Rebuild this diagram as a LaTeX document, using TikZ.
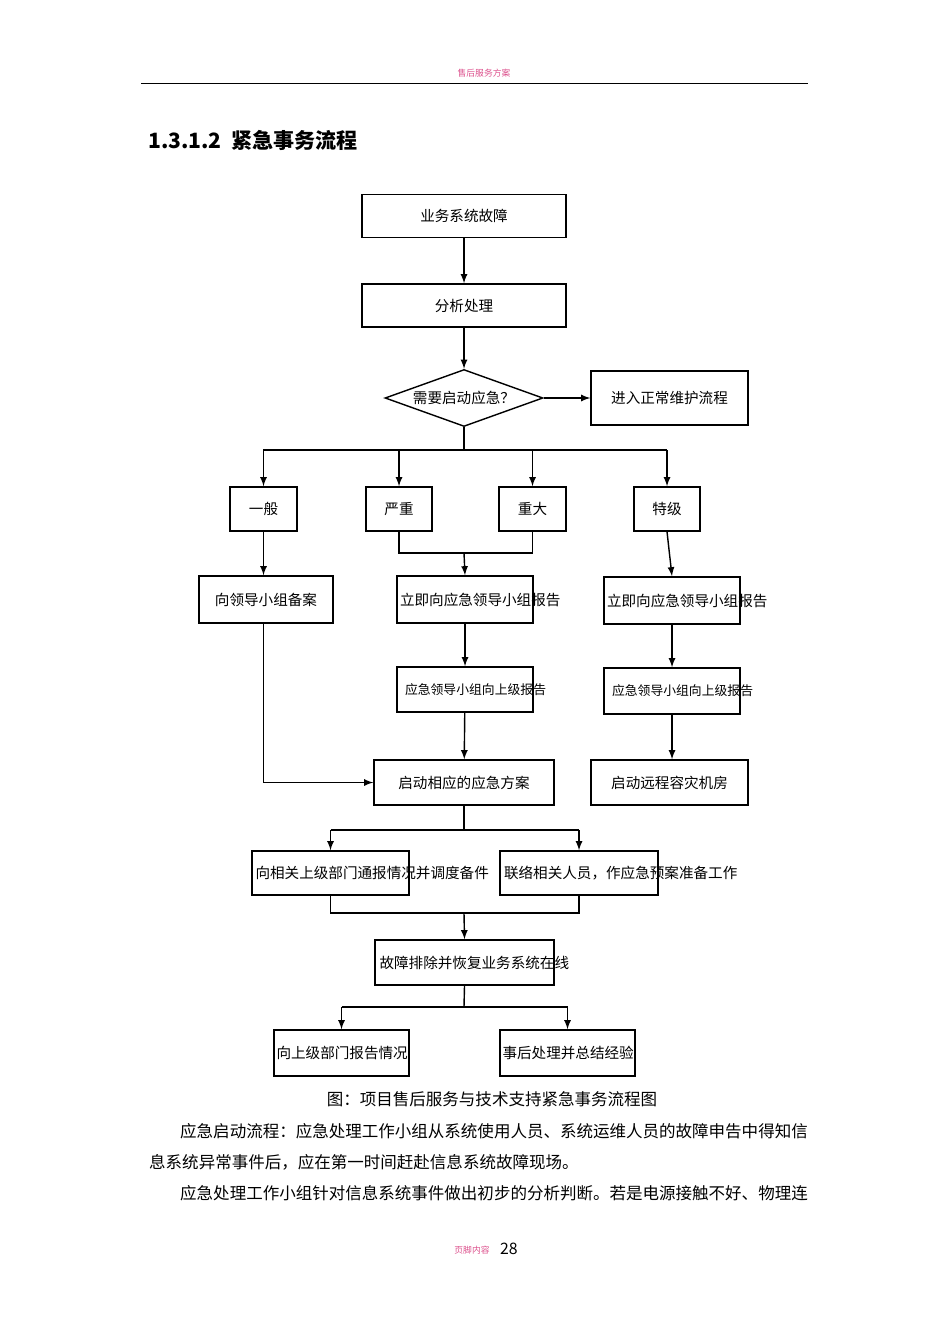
\documentclass[tikz,border=0pt]{standalone}
\usepackage{fontspec}
\setmainfont{Liberation Serif}
\newfontfamily\cjk{Noto Sans CJK SC}
\usetikzlibrary{shapes.geometric,arrows}
\definecolor{hdpink}{RGB}{220,80,140}
\begin{document}
\begin{tikzpicture}[x=0.02cm,y=-0.02cm,
  box/.style={draw,thick,minimum height=0.86cm,align=center,inner sep=1pt,font=\cjk\fontsize{8.3}{10}\selectfont},
  arr/.style={-latex,thick},
  ln/.style={thick}]
	\useasboundingbox (0,0) rectangle (950,1344);
	
	% page header
	\node[font=\cjk\fontsize{5}{6}\selectfont,text=hdpink] (hd) at (484,73) {售后服务方案};
	\draw (141,83) -- (808,83);
	\node[anchor=west,font=\cjk\bfseries\fontsize{12}{14}\selectfont] (title) at (142,140) {1.3.1.2\ \ 紧急事务流程};
	
	% top part
	\node[box,minimum width=4.08cm] (fault) at (464,216) {业务系统故障};
	\node[box,minimum width=4.08cm] (anal) at (464,305.5) {分析处理};
	\node[draw,thick,diamond,aspect=2.75,minimum width=3.16cm,minimum height=1.14cm,inner sep=0pt,font=\cjk\fontsize{8.3}{10}\selectfont] (need) at (464,398) {需要启动应急？};
	\node[box,minimum width=3.14cm,minimum height=1.08cm] (norm) at (669.5,398) {进入正常维护流程};
	\draw[arr] (fault) -- (anal);
	\draw[arr] (anal) -- (need);
	\draw[arr] (need) -- (norm);
	
	% levels
	\node[box,minimum width=1.34cm,minimum height=0.88cm] (l1) at (263.5,509) {一般};
	\node[box,minimum width=1.32cm,minimum height=0.88cm] (l2) at (399,509) {严重};
	\node[box,minimum width=1.34cm,minimum height=0.88cm] (l3) at (532.5,509) {重大};
	\node[box,minimum width=1.32cm,minimum height=0.88cm] (l4) at (667,509) {特级};
	\coordinate (sp) at (464,450);
	\draw[ln] (need.south) -- (sp);
	\draw[ln] (263,450) -- (667,450);
	\foreach \n in {l1,l2,l3,l4} \draw[arr] (\n |- sp) -- (\n.north);
	
	% reports
	\node[box,minimum width=2.68cm,minimum height=0.94cm] (rec) at (266,599.5) {向领导小组备案};
	\node[box,minimum width=2.72cm,minimum height=0.94cm,text width=2.6cm] (rep1) at (465,599.5) {立即向应急领导小组报告};
	\node[box,minimum width=2.72cm,minimum height=0.94cm,text width=2.6cm] (rep2) at (672,600.5) {立即向应急领导小组报告};
	\node[box,minimum width=2.72cm,minimum height=0.9cm,text width=2.4cm,font=\cjk\fontsize{7.3}{9}\selectfont] (up1) at (465,689.5) {应急领导小组向上级报告};
	\node[box,minimum width=2.72cm,minimum height=0.92cm,text width=2.4cm,font=\cjk\fontsize{7.3}{9}\selectfont] (up2) at (672,691) {应急领导小组向上级报告};
	\coordinate (mg) at (464,553);
	\draw[ln] (l2.south) |- (mg) -| (l3.south);
	\draw[arr] (mg) -- (rep1.north);
	\draw[arr] (l1.south) -- (l1 |- rec.north);
	\draw[arr] (l4.south) -- (rep2.north);
	\draw[arr] (rep1) -- (up1);
	\draw[arr] (rep2) -- (up2);
	
	% plans
	\node[box,minimum width=3.6cm,minimum height=0.9cm] (plan) at (464,782.5) {启动相应的应急方案};
	\node[box,minimum width=3.14cm,minimum height=0.9cm] (dr) at (669.5,782.5) {启动远程容灾机房};
	\draw[arr] (up1) -- (plan);
	\draw[arr] (up2.south) -- (up2.south |- dr.north);
	\draw[arr] (l1 |- rec.south) |- (plan.west);
	
	% actions
	\node[box,minimum width=3.14cm,minimum height=0.88cm,text width=3cm] (inf) at (330.5,873) {向相关上级部门通报情况并调度备件};
	\node[box,minimum width=3.16cm,minimum height=0.88cm,text width=3cm] (con) at (579,873) {联络相关人员，作应急预案准备工作};
	\coordinate (sp2) at (464,830);
	\draw[ln] (plan.south) -- (sp2);
	\draw[arr] (inf |- sp2) -- (inf.north);
	\draw[arr] (con |- sp2) -| (con.north);
	\draw[ln] (inf |- sp2) -- (con |- sp2);
	
	\node[box,minimum width=3.58cm,minimum height=0.9cm,text width=3.4cm] (fix) at (464.5,962.5) {故障排除并恢复业务系统在线};
	\coordinate (mg2) at (464,913);
	\draw[ln] (inf.south) |- (mg2) -| (con.south);
	\draw[arr] (mg2) -- (fix.north);
	
	% final
	\node[box,minimum width=2.7cm,minimum height=0.92cm,text width=2.6cm] (rpt) at (341.5,1053) {向上级部门报告情况};
	\node[box,minimum width=2.7cm,minimum height=0.92cm,text width=2.6cm] (sum) at (567.5,1053) {事后处理并总结经验};
	\coordinate (sp3) at (464,1007);
	\draw[ln] (fix.south) -- (sp3);
	\draw[ln] (rpt |- sp3) -- (sum |- sp3);
	\draw[arr] (rpt |- sp3) -- (rpt.north);
	\draw[arr] (sum |- sp3) -- (sum.north);
	
	% text below
	\node[font=\cjk\fontsize{9.4}{11}\selectfont] (cap) at (492,1099) {图：项目售后服务与技术支持紧急事务流程图};
	\node[anchor=west,font=\cjk\fontsize{9.4}{11}\selectfont] (p1) at (174,1131) {应急启动流程：应急处理工作小组从系统使用人员、系统运维人员的故障申告中得知信};
	\node[anchor=west,font=\cjk\fontsize{9.4}{11}\selectfont] (p2) at (143,1162) {息系统异常事件后，应在第一时间赶赴信息系统故障现场。};
	\node[anchor=west,font=\cjk\fontsize{9.4}{11}\selectfont] (p3) at (174,1193) {应急处理工作小组针对信息系统事件做出初步的分析判断。若是电源接触不好、物理连};
	\node[font=\cjk\fontsize{5}{6}\selectfont,text=hdpink] (ft) at (472,1250) {页脚内容};
	\node[anchor=west,font=\cjk\fontsize{9}{10}\selectfont] (pg) at (494,1249) {28};
\end{tikzpicture}
\end{document}
